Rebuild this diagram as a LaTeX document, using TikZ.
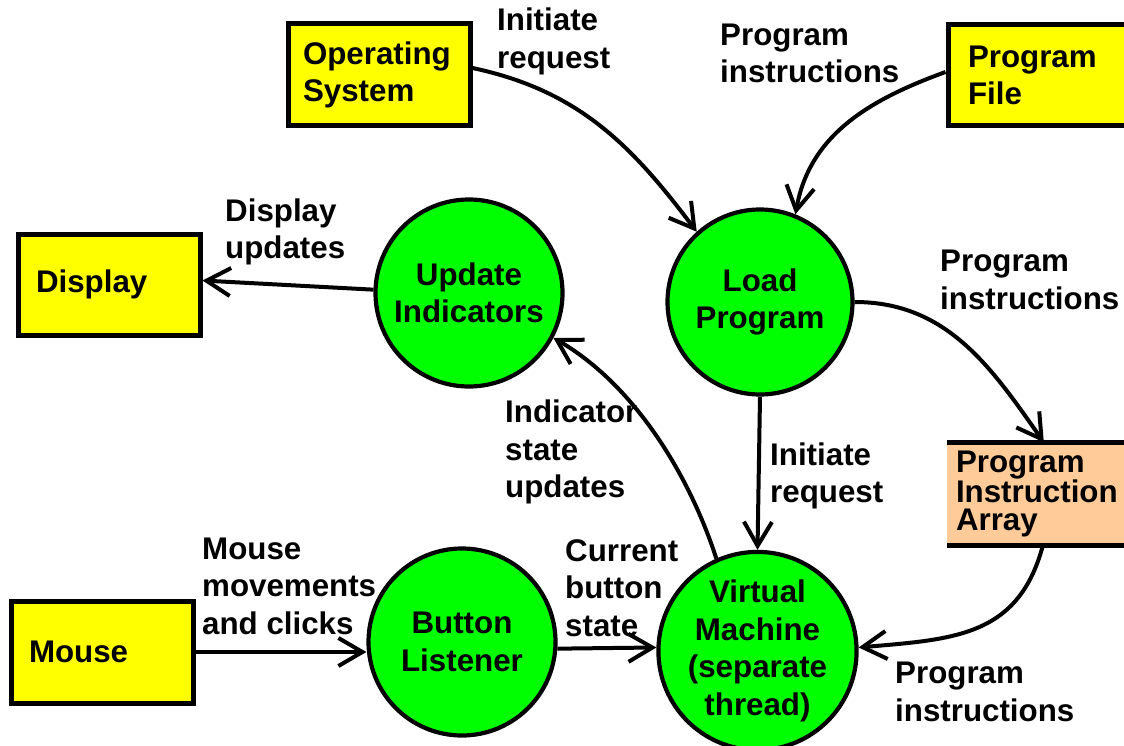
\documentclass[tikz,border=0pt]{standalone}
\usepackage{fontspec}
\setmainfont{Liberation Sans}
\usetikzlibrary{arrows.meta}
\definecolor{extyellow}{HTML}{FFFF00}
\definecolor{procgreen}{HTML}{00FF00}
\definecolor{storepeach}{HTML}{FFCC99}

\begin{document}
\begin{tikzpicture}[x=1pt,y=-1pt,
  every node/.style={font=\bfseries\fontsize{31.3}{37.5}\selectfont},
  entity/.style={draw, line width=5pt, fill=extyellow, align=left, inner ysep=0pt},
  store/.style={fill=storepeach, align=left, inner ysep=0pt,
    font=\bfseries\fontsize{31.3}{28.5}\selectfont},
  process/.style={circle, draw, line width=4.2pt, fill=procgreen, align=center, inner sep=0pt},
  flow/.style={line width=4pt, -{Straight Barb[length=24pt,width=28pt]}},
  lbl/.style={align=left, anchor=west, inner sep=0pt}]

\useasboundingbox (0,0) rectangle (1124,746);
\clip (0,0) rectangle (1124,746);

% external entities
\node[entity, minimum width=182pt, minimum height=102pt, text width=152pt, inner xsep=15pt]
  (os) at (379,75) {Operating\\System};
\node[entity, minimum width=200pt, minimum height=101pt, text width=160pt, inner xsep=20pt]
  (pf) at (1048,75.5) {Program\\File};
\node[entity, minimum width=182pt, minimum height=101pt, text width=146pt, inner xsep=18pt]
  (disp) at (109,284.5) {Display};
\node[entity, minimum width=182pt, minimum height=102pt, text width=146pt, inner xsep=18pt]
  (mouse) at (102,652) {Mouse};

% data store: only top and bottom rules
\node[store, minimum width=200pt, minimum height=103pt, text width=182pt, inner xsep=9pt]
  (pia) at (1047,494) {Program\\Instruction\\Array};
\draw[line width=5pt] (pia.north west) -- (pia.north east);
\draw[line width=5pt] (pia.south west) -- (pia.south east);

% processes
\node[process, minimum size=185pt] (lp) at (760,302) {Load\\Program};
\node[process, minimum size=187pt] (ui) at (469,293) {Update\\Indicators};
\node[process, minimum size=187pt] (bl) at (462,642) {Button\\Listener};
\node[process, minimum size=186pt] (vm) at (757.5,651) {Virtual\\Machine\\(separate\\thread)};

% data flows
\draw[flow] ([yshift=7pt]os.east) to[out=-12,in=127] (lp.132);
\draw[flow] ([yshift=3.5pt]pf.west) to[out=200,in=80] (lp.68);
\draw[flow] (ui.178) -- ([yshift=4pt]disp.east);
\draw[flow] (lp.east) to[out=0,in=125] ([xshift=97pt]pia.north west);
\draw[flow] (lp.south) -- (vm.north);
\draw[flow] (vm.114) to[out=108,in=-30,looseness=0.85] (ui.-28);
\draw[flow] (mouse.east) -- (mouse.east -| bl.west);
\draw[flow] (bl.-4) -- (vm.178);
\draw[flow] ([xshift=96pt]pia.south west) to[out=-105,in=5,looseness=1.15] (vm.2);

% flow labels
\node[lbl] (l1) at (497,41.5) {Initiate\\request};
\node[lbl] (l2) at (720,53.5) {Program\\instructions};
\node[lbl] (l3) at (225,232) {Display\\updates};
\node[lbl] (l4) at (940,280) {Program\\instructions};
\node[lbl] (l5) at (770,476) {Initiate\\request};
\node[lbl] (l6) at (505,452) {Indicator\\state\\updates};
\node[lbl] (l7) at (202,586) {Mouse\\movements\\and clicks};
\node[lbl] (l8) at (565,588) {Current\\button\\state};
\node[lbl] (l9) at (895,692) {Program\\instructions};
\end{tikzpicture}
\end{document}
